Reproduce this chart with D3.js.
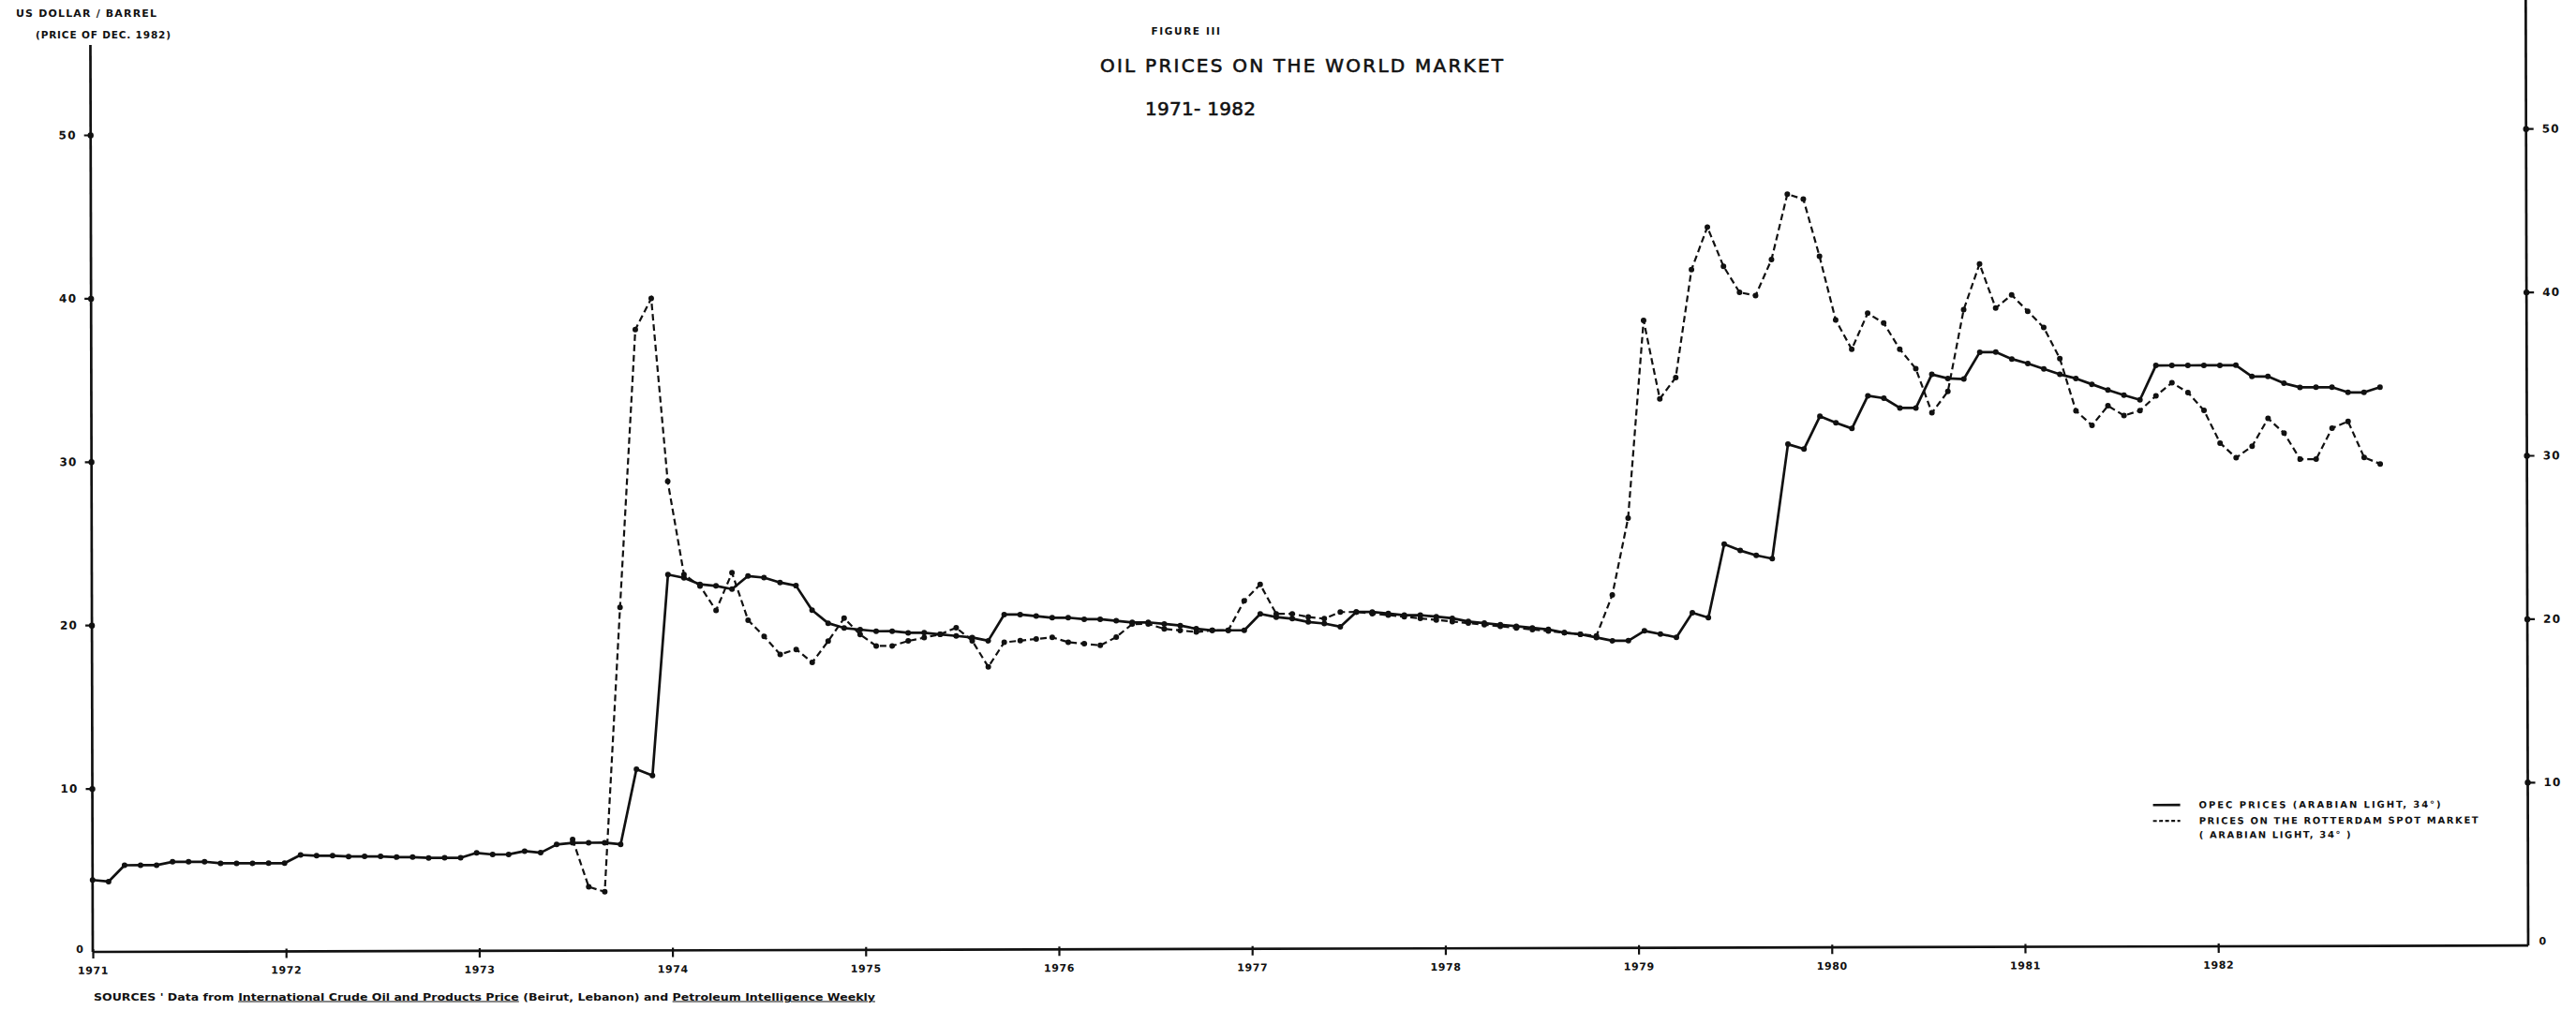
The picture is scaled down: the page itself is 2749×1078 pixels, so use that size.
<!DOCTYPE html>
<html>
<head>
<meta charset="utf-8">
<script src="https://cdn.jsdelivr.net/npm/d3@7/dist/d3.min.js"></script>
<style>
  html, body { margin: 0; padding: 0; background: #ffffff; }
  svg { display: block; }
</style>
</head>
<body>
<script>
// Monthly real prices, US$ per barrel at December 1982 prices.
// Each value is plotted at the end of its month.
// OPEC series: December 1970 to November 1982.
const opecFirstMonth = [1970, 11];
const opecPrices = [
  // Dec 1970
  4.4,
  // 1971
  4.3, 5.3, 5.3, 5.3, 5.5, 5.5, 5.5, 5.4, 5.4, 5.4, 5.4, 5.4,
  // 1972
  5.9, 5.85, 5.85, 5.8, 5.8, 5.8, 5.75, 5.75, 5.7, 5.7, 5.7, 6.0,
  // 1973
  5.9, 5.9, 6.1, 6.0, 6.5, 6.6, 6.6, 6.6, 6.5, 11.1, 10.7, 23.0,
  // 1974
  22.8, 22.4, 22.3, 22.1, 22.9, 22.8, 22.5, 22.3, 20.8, 20.0, 19.7, 19.6,
  // 1975
  19.5, 19.5, 19.4, 19.4, 19.3, 19.2, 19.1, 18.9, 20.5, 20.5, 20.4, 20.3,
  // 1976
  20.3, 20.2, 20.2, 20.1, 20.0, 20.0, 19.9, 19.8, 19.6, 19.5, 19.5, 19.5,
  // 1977
  20.5, 20.3, 20.2, 20.0, 19.9, 19.7, 20.6, 20.6, 20.5, 20.4, 20.4, 20.3,
  // 1978
  20.2, 20.0, 19.9, 19.8, 19.7, 19.6, 19.5, 19.3, 19.2, 19.0, 18.8, 18.8,
  // 1979
  19.4, 19.2, 19.0, 20.5, 20.2, 24.7, 24.3, 24.0, 23.8, 30.8, 30.5, 32.5,
  // 1980
  32.1, 31.75, 33.75, 33.6, 33.0, 33.0, 35.05, 34.8, 34.76, 36.4, 36.4, 35.98,
  // 1981
  35.7, 35.37, 35.03, 34.78, 34.42, 34.07, 33.75, 33.46, 35.56, 35.56, 35.56, 35.56,
  // 1982 (Jan-Nov)
  35.56, 35.56, 34.87, 34.87, 34.45, 34.2, 34.2, 34.2, 33.88, 33.88, 34.2
];

// Rotterdam spot series: June 1973 to November 1982.
const rotterdamFirstMonth = [1973, 5];
const rotterdamPrices = [
  // 1973 (Jun-Dec)
  6.8, 3.9, 3.6, 21.0, 38.0, 39.9, 28.7,
  // 1974
  23.0, 22.3, 20.8, 23.1, 20.2, 19.2, 18.1, 18.4, 17.6, 18.9, 20.3, 19.3,
  // 1975
  18.6, 18.6, 18.9, 19.1, 19.3, 19.7, 18.9, 17.3, 18.8, 18.9, 19.0, 19.1,
  // 1976
  18.8, 18.7, 18.6, 19.1, 19.9, 19.9, 19.6, 19.5, 19.4, 19.5, 19.5, 21.3,
  // 1977
  22.3, 20.5, 20.5, 20.3, 20.2, 20.6, 20.6, 20.5, 20.4, 20.3, 20.2, 20.1,
  // 1978
  20.0, 19.9, 19.8, 19.7, 19.6, 19.5, 19.4, 19.3, 19.2, 19.1, 21.6, 26.3,
  // 1979
  38.4, 33.6, 34.9, 41.5, 44.1, 41.7, 40.1, 39.9, 42.1, 46.1, 45.8, 42.3,
  // 1980
  38.4, 36.6, 38.8, 38.2, 36.6, 35.4, 32.7, 34.0, 39.0, 41.8, 39.1, 39.9,
  // 1981
  38.9, 37.9, 36.0, 32.8, 31.9, 33.1, 32.5, 32.8, 33.7, 34.5, 33.9, 32.8,
  // 1982 (Jan-Nov)
  30.8, 29.9, 30.6, 32.3, 31.4, 29.8, 29.8, 31.7, 32.1, 29.9, 29.5
];

const yearLabels = ["1971", "1972", "1973", "1974", "1975", "1976",
                    "1977", "1978", "1979", "1980", "1981", "1982"];
const valueTicks = [0, 10, 20, 30, 40, 50];

const legendLabels = [
  ["OPEC PRICES (ARABIAN LIGHT, 34\u00B0)"],
  ["PRICES ON THE ROTTERDAM SPOT MARKET", "( ARABIAN LIGHT, 34\u00B0 )"]
];

// ---------------------------------------------------------------------------

const W = 2749, H = 1078;
const left = 99, bottom = 1016, rightAxisX = 2698;
const ink = "#111";
const labelFont = "'DejaVu Sans', sans-serif";

const svg = d3.select("body").append("svg")
  .attr("width", W).attr("height", H)
  .attr("viewBox", `0 0 ${W} ${H}`);

svg.append("rect").attr("width", W).attr("height", H).attr("fill", "#fff");

// calendar axis (year ticks) and the plotting grid of the monthly points,
// which was laid out a touch tighter than the year divisions
const xYear = d3.scaleLinear().domain([1971, 1983]).range([left, left + 12 * 206.2]);
const monthsSince1971 = (yr, m) => 12 * (yr - 1971) + m + 1;   // end of month
const xMonth = d3.scaleLinear().domain([0, 143]).range([left, 2541.4]);
const y = d3.scaleLinear().domain([0, 50]).range([bottom, 144]);

const toSeries = (first, values) => values.map((v, i) => ({
  k: monthsSince1971(first[0], first[1] + i),
  v
}));
const opec = toSeries(opecFirstMonth, opecPrices);
const rotterdam = toSeries(rotterdamFirstMonth, rotterdamPrices);

// the drawing sits very slightly askew on the sheet
const plot = svg.append("g").attr("transform", `rotate(-0.15, ${left}, ${bottom})`);

// frame: left axis, right axis, base line
plot.append("line").attr("x1", left).attr("x2", left).attr("y1", 48).attr("y2", bottom)
  .attr("stroke", ink).attr("stroke-width", 2.7);
plot.append("line").attr("x1", rightAxisX).attr("x2", rightAxisX).attr("y1", -10).attr("y2", bottom)
  .attr("stroke", ink).attr("stroke-width", 2.7);
plot.append("line").attr("x1", left).attr("x2", rightAxisX).attr("y1", bottom).attr("y2", bottom)
  .attr("stroke", ink).attr("stroke-width", 2.7);

const styleLabels = (sel, size) => sel.attr("fill", ink)
  .attr("font-family", labelFont).attr("font-weight", "bold")
  .attr("font-size", size).attr("letter-spacing", 1.2);

// left value axis
const yLeft = plot.append("g").attr("transform", `translate(${left},0)`)
  .call(d3.axisLeft(y).tickValues(valueTicks.filter(d => d > 0)).tickSize(7).tickPadding(8)
    .tickFormat(d3.format("d")));
// right value axis
const yRight = plot.append("g").attr("transform", `translate(${rightAxisX},0)`)
  .call(d3.axisRight(y).tickValues(valueTicks.filter(d => d > 0)).tickSize(8).tickPadding(9)
    .tickFormat(d3.format("d")));
[yLeft, yRight].forEach(g => {
  g.select(".domain").remove();
  g.selectAll(".tick line").attr("stroke", ink).attr("stroke-width", 2.2);
  g.selectAll(".tick").append("circle").attr("r", 3.2).attr("fill", ink);
  styleLabels(g.selectAll(".tick text"), 12);
});
// zero labels at the corners
styleLabels(plot.append("text"), 11).attr("x", left - 9).attr("y", bottom + 1)
  .attr("text-anchor", "end").text("0");
styleLabels(plot.append("text"), 11).attr("x", rightAxisX + 16).attr("y", bottom - 1)
  .attr("text-anchor", "middle").text("0");

// time axis: one tick per year
const xAxis = plot.append("g").attr("transform", `translate(0,${bottom})`)
  .call(d3.axisBottom(xYear).tickValues(yearLabels.map(Number)).tickSize(7).tickPadding(9)
    .tickFormat(d => yearLabels[d - 1971]));
xAxis.select(".domain").remove();
xAxis.selectAll(".tick line").attr("stroke", ink).attr("stroke-width", 2.2).attr("y1", -3);
styleLabels(xAxis.selectAll(".tick text"), 11).attr("letter-spacing", 0.6);

// price lines
const line = d3.line().x(d => xMonth(d.k)).y(d => y(d.v));

plot.append("path").datum(opec).attr("d", line)
  .attr("fill", "none").attr("stroke", ink).attr("stroke-width", 2.7)
  .attr("stroke-linejoin", "round");
plot.append("path").datum(rotterdam).attr("d", line)
  .attr("fill", "none").attr("stroke", ink).attr("stroke-width", 2.2)
  .attr("stroke-dasharray", "7,4");

plot.append("g").selectAll("circle").data(opec).join("circle")
  .attr("cx", d => xMonth(d.k)).attr("cy", d => y(d.v)).attr("r", 3).attr("fill", ink);
plot.append("g").selectAll("circle").data(rotterdam).join("circle")
  .attr("cx", d => xMonth(d.k)).attr("cy", d => y(d.v)).attr("r", 3).attr("fill", ink);

// legend
const legend = plot.append("g").attr("transform", "translate(2298,865)");
legend.append("line").attr("x1", 0).attr("x2", 29).attr("y1", 0).attr("y2", 0)
  .attr("stroke", ink).attr("stroke-width", 2.7);
legend.append("line").attr("x1", 0).attr("x2", 29).attr("y1", 17).attr("y2", 17)
  .attr("stroke", ink).attr("stroke-width", 2.2).attr("stroke-dasharray", "4,2.5");
const legendText = (t, yy, len) => legend.append("text")
  .attr("x", 49).attr("y", yy).attr("dy", "0.35em")
  .attr("font-family", labelFont).attr("font-weight", "bold").attr("font-size", 10)
  .attr("fill", ink)
  .attr("textLength", len).attr("lengthAdjust", "spacing").text(t);
legendText(legendLabels[0][0], 0, 258);
legendText(legendLabels[1][0], 17, 298);
legendText(legendLabels[1][1], 32, 162);

// headings
const head = svg.append("g").attr("fill", ink);
head.append("text").attr("x", 17).attr("y", 14).attr("dy", "0.35em")
  .attr("font-family", labelFont).attr("font-weight", "bold").attr("font-size", 11)
  .attr("textLength", 150).attr("lengthAdjust", "spacing").text("US DOLLAR / BARREL");
head.append("text").attr("x", 38).attr("y", 37).attr("dy", "0.35em")
  .attr("font-family", labelFont).attr("font-weight", "bold").attr("font-size", 10.5)
  .attr("textLength", 144).attr("lengthAdjust", "spacing").text("(PRICE OF DEC. 1982)");

head.append("text").attr("x", 1266).attr("y", 33).attr("dy", "0.35em").attr("text-anchor", "middle")
  .attr("font-family", labelFont).attr("font-weight", "bold").attr("font-size", 10.5)
  .attr("letter-spacing", 1.6).text("FIGURE III");
// pen-lettered heading: a thin outline thickens the strokes
head.append("text").attr("x", 1174).attr("y", 70).attr("dy", "0.35em")
  .attr("font-family", labelFont).attr("font-size", 20)
  .attr("stroke", ink).attr("stroke-width", 0.6)
  .attr("textLength", 430).attr("lengthAdjust", "spacing")
  .text("OIL PRICES ON  THE WORLD MARKET");
head.append("text").attr("x", 1222).attr("y", 116).attr("dy", "0.35em")
  .attr("font-family", labelFont).attr("font-size", 20)
  .attr("stroke", ink).attr("stroke-width", 0.6)
  .attr("textLength", 118).attr("lengthAdjust", "spacing")
  .text("1971- 1982");

// source note
const src = svg.append("text").attr("x", 100).attr("y", 1064).attr("dy", "0.35em")
  .attr("font-family", labelFont).attr("font-weight", "bold").attr("font-size", 10)
  .attr("fill", ink).attr("textLength", 834).attr("lengthAdjust", "spacingAndGlyphs");
src.append("tspan").text("SOURCES ' Data from ");
src.append("tspan").attr("text-decoration", "underline").text("International Crude Oil and Products Price");
src.append("tspan").text(" (Beirut, Lebanon) and ");
src.append("tspan").attr("text-decoration", "underline").text("Petroleum Intelligence Weekly");
</script>
</body>
</html>
